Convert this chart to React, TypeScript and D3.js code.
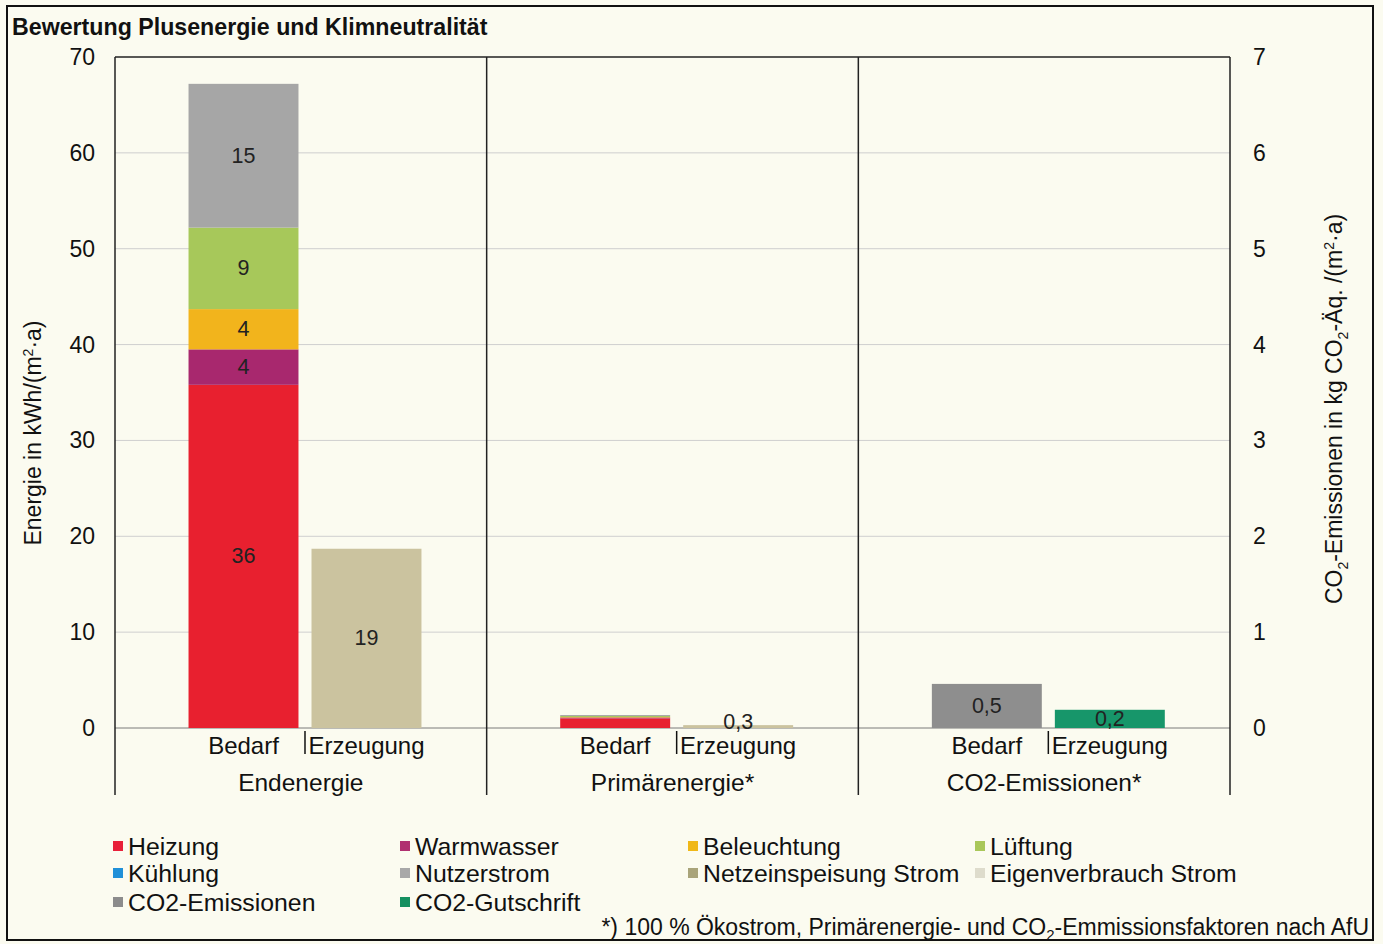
import * as d3 from 'd3'

// ---- data ----
const groups = ['Endenergie', 'Primärenergie*', 'CO2-Emissionen*']
const subCats = ['Bedarf', 'Erzeugung']

const demandKeys = ['Heizung', 'Warmwasser', 'Beleuchtung', 'Lüftung', 'Kühlung', 'Nutzerstrom']
const demandColors = ['#e8202f', '#a8286e', '#f2b41c', '#a7c85a', '#2a8fd8', '#a6a6a6']
const endDemand = [35.8, 3.7, 4.2, 8.5, 0, 15.0]
const endDemandLabels = ['36', '4', '4', '9', '', '15']
const primDemand = [1.0, 0.1, 0.05, 0.1, 0, 0.1]

const generation = [18.7, 0.3] // Endenergie, Primärenergie (kWh)
const generationLabels = ['19', '0,3']
const co2 = [0.46, 0.19] // Bedarf, Erzeugung (kg)
const co2Labels = ['0,5', '0,2']
const co2Colors = ['#8e8e8e', '#17966a']

const leftTicks = [0, 10, 20, 30, 40, 50, 60, 70]
const rightTicks = [0, 1, 2, 3, 4, 5, 6, 7]

const legendNames = [
  'Heizung', 'Warmwasser', 'Beleuchtung', 'Lüftung',
  'Kühlung', 'Nutzerstrom', 'Netzeinspeisung Strom', 'Eigenverbrauch Strom',
  'CO2-Emissionen', 'CO2-Gutschrift',
]
const legendColors = [
  '#e8203a', '#b03070', '#f0b818', '#a9c759',
  '#2090d8', '#a8a8a8', '#a9a47a', '#dedccc',
  '#8c8c8c', '#159060',
]

const W = 1383
const H = 944
const margin = { top: 57, left: 115, right: 1230, bottom: 728 }
const FONT = '"Liberation Sans", Arial, sans-serif'

export default function App() {
  const yL = d3.scaleLinear().domain([0, 70]).range([margin.bottom, margin.top])
  const yR = d3.scaleLinear().domain([0, 7]).range([margin.bottom, margin.top])
  const xG = d3.scaleBand().domain(groups).range([margin.left, margin.right])
  const xS = d3.scaleBand().domain(subCats).range([0, xG.bandwidth()])
    .paddingInner(0.106).paddingOuter(0.564).align(0.53)

  const stack = d3.stack<number[]>()
    .keys(demandKeys.map((_, i) => String(i)))
    .value((d, k) => d[+k])
  const endSeries = stack([endDemand])
  const primSeries = stack([primDemand])

  const bw = xS.bandwidth()
  const bx = (g: string, s: string) => (xG(g) || 0) + (xS(s) || 0)

  const labelStyle = { fontFamily: FONT, fontSize: 21.5, fill: '#222' }

  return (
    <div style={{ position: 'absolute', left: 0, top: 0 }}>
      <svg width={W} height={H} style={{ display: 'block', background: '#fbfbf0' }}>
        <rect x={7} y={6} width={1366} height={934} fill="none" stroke="#111" strokeWidth={2} />
        <text x={12} y={35} fontFamily={FONT} fontSize={23.2} fontWeight="bold" fill="#111">
          Bewertung Plusenergie und Klimneutralität
        </text>

        {/* gridlines */}
        {leftTicks.map(t => (
          <line key={'g' + t} x1={margin.left} x2={margin.right} y1={yL(t)} y2={yL(t)}
            stroke={t === 0 ? '#7a7a7a' : t === 70 ? '#222' : '#cfcfcf'} strokeWidth={t === 70 ? 1.5 : 1} />
        ))}

        {/* plot borders and group dividers */}
        {[margin.left, ...groups.slice(1).map(g => xG(g) || 0), margin.right].map((x, i) => (
          <line key={'d' + i} x1={x} x2={x} y1={margin.top} y2={795} stroke="#222" strokeWidth={1.5} />
        ))}

        {/* Endenergie Bedarf stack */}
        {endSeries.map((s, i) => (
          <g key={'e' + i}>
            <rect x={bx(groups[0], 'Bedarf')} width={bw}
              y={yL(s[0][1])} height={yL(s[0][0]) - yL(s[0][1])} fill={demandColors[i]} />
            {endDemandLabels[i] && (
              <text x={bx(groups[0], 'Bedarf') + bw / 2} y={yL((s[0][0] + s[0][1]) / 2)}
                textAnchor="middle" dominantBaseline="central" {...labelStyle}>
                {endDemandLabels[i]}
              </text>
            )}
          </g>
        ))}

        {/* Primärenergie Bedarf stack */}
        {primSeries.map((s, i) => (
          <rect key={'p' + i} x={bx(groups[1], 'Bedarf')} width={bw}
            y={yL(s[0][1])} height={yL(s[0][0]) - yL(s[0][1])} fill={demandColors[i]} />
        ))}

        {/* Erzeugung bars */}
        {generation.map((v, i) => (
          <g key={'gen' + i}>
            <rect x={bx(groups[i], 'Erzeugung')} width={bw} y={yL(v)} height={yL(0) - yL(v)} fill="#cbc39f" />
            <text x={bx(groups[i], 'Erzeugung') + bw / 2} y={yL(v / 2) - (i === 1 ? 5 : 0)}
              textAnchor="middle" dominantBaseline="central" {...labelStyle}>
              {generationLabels[i]}
            </text>
          </g>
        ))}

        {/* CO2 bars on right axis */}
        {co2.map((v, i) => (
          <g key={'co2' + i}>
            <rect x={bx(groups[2], subCats[i])} width={bw} y={yR(v)} height={yR(0) - yR(v)} fill={co2Colors[i]} />
            <text x={bx(groups[2], subCats[i]) + bw / 2} y={yR(v / 2)}
              textAnchor="middle" dominantBaseline="central" {...labelStyle}>
              {co2Labels[i]}
            </text>
          </g>
        ))}

        {/* left axis */}
        {leftTicks.map(t => (
          <text key={'l' + t} x={95} y={yL(t)} textAnchor="end" dominantBaseline="central"
            fontFamily={FONT} fontSize={23} fill="#111">{t}</text>
        ))}
        <text transform={`translate(41,433) rotate(-90)`} textAnchor="middle"
          fontFamily={FONT} fontSize={23} fill="#111">
          Energie in kWh/(m<tspan dy={-8} fontSize={14}>2</tspan><tspan dy={8}>·a)</tspan>
        </text>

        {/* right axis */}
        {rightTicks.map(t => (
          <text key={'r' + t} x={1253} y={yR(t)} textAnchor="start" dominantBaseline="central"
            fontFamily={FONT} fontSize={23} fill="#111">{t}</text>
        ))}
        <text transform={`translate(1342,409) rotate(-90)`} textAnchor="middle"
          fontFamily={FONT} fontSize={23} fill="#111">
          CO<tspan dy={6} fontSize={14}>2</tspan><tspan dy={-6}>-Emissionen in kg CO</tspan>
          <tspan dy={6} fontSize={14}>2</tspan><tspan dy={-6}>-Äq. /(m</tspan>
          <tspan dy={-8} fontSize={14}>2</tspan><tspan dy={8}>·a)</tspan>
        </text>

        {/* category axis */}
        {groups.map(g => {
          const tickX = (xG(g) || 0) + ((xS('Bedarf') || 0) + bw + (xS('Erzeugung') || 0)) / 2
          return (
            <g key={'c' + g}>
              {subCats.map(s => (
                <text key={s} x={bx(g, s) + bw / 2} y={745} textAnchor="middle" dominantBaseline="central"
                  fontFamily={FONT} fontSize={24} fill="#111">{s}</text>
              ))}
              <line x1={tickX} x2={tickX} y1={731} y2={754} stroke="#111" strokeWidth={1.5} />
              <text x={(xG(g) || 0) + xG.bandwidth() / 2} y={782} textAnchor="middle" dominantBaseline="central"
                fontFamily={FONT} fontSize={24.5} fill="#111">{g}</text>
            </g>
          )
        })}

        {/* legend */}
        {legendNames.map((n, i) => {
          const col = i % 4
          const row = Math.floor(i / 4)
          const lx = [113, 400, 688, 975][col]
          const ly = [846, 873, 902][row]
          return (
            <g key={'lg' + i}>
              <rect x={lx} y={ly - 5} width={10} height={10} fill={legendColors[i]} />
              <text x={lx + 15} y={ly} dominantBaseline="central" fontFamily={FONT} fontSize={24.8} fill="#111">{n}</text>
            </g>
          )
        })}

        <text x={1369} y={935} textAnchor="end" fontFamily={FONT} fontSize={23} fill="#111">
          *) 100 % Ökostrom, Primärenergie- und CO<tspan dy={5} fontSize={15}>2</tspan>
          <tspan dy={-5}>-Emmissionsfaktoren nach AfU</tspan>
        </text>
      </svg>
    </div>
  )
}
